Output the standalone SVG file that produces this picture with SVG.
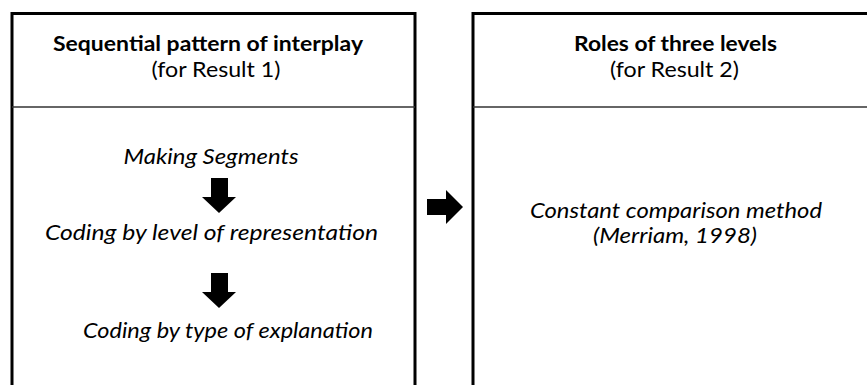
<svg xmlns="http://www.w3.org/2000/svg" width="867" height="385" viewBox="0 0 867 385">
<style>
.frame{fill:none;stroke:#000;stroke-width:3}
.div{stroke:#333;stroke-width:1.6}
.t{font-family:Lato,"Open Sans","Liberation Sans",sans-serif;font-size:20.5px;fill:#000;text-anchor:middle}
.b{font-weight:bold}
.i{font-style:italic}
.arr{fill:#000}
</style>
<rect width="867" height="385" fill="#fff"/>
<g id="left-box">
<path class="frame" d="M12,390 V13.5 H415 V390"/>
<line class="div" x1="12" y1="107" x2="415" y2="107"/>
<text class="t b" x="208" y="51" textLength="310" lengthAdjust="spacingAndGlyphs">Sequential pattern of interplay</text>
<text class="t" x="216" y="77" textLength="129" lengthAdjust="spacingAndGlyphs">(for Result 1)</text>
<text class="t i" x="211" y="164" textLength="175" lengthAdjust="spacingAndGlyphs">Making Segments</text>
<text class="t i" x="211.5" y="240" textLength="333" lengthAdjust="spacingAndGlyphs">Coding by level of representation</text>
<text class="t i" x="228" y="338" textLength="290" lengthAdjust="spacingAndGlyphs">Coding by type of explanation</text>
</g>
<g id="right-box">
<path class="frame" d="M473,390 V13.5 H870"/>
<line class="div" x1="473" y1="107" x2="870" y2="107"/>
<text class="t b" x="675.5" y="51" textLength="203" lengthAdjust="spacingAndGlyphs">Roles of three levels</text>
<text class="t" x="674.5" y="77" textLength="129" lengthAdjust="spacingAndGlyphs">(for Result 2)</text>
<text class="t i" x="676" y="218" textLength="292" lengthAdjust="spacingAndGlyphs">Constant comparison method</text>
<text class="t i" x="675" y="243" textLength="164" lengthAdjust="spacingAndGlyphs">(Merriam, 1998)</text>
</g>
<g id="connectors">
<polygon class="arr" points="211,178 228,178 228,197 236,197 219,213 202,197 211,197"/>
<polygon class="arr" points="211,273 228,273 228,292 236,292 219,308 202,292 211,292"/>
<polygon class="arr" points="427,199 446,199 446,190 463,207 446,224 446,215 427,215"/>
</g>
</svg>
